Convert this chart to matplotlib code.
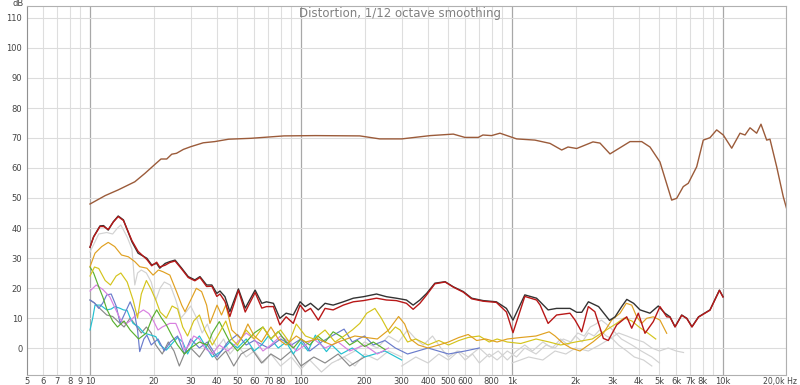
import numpy as np
import matplotlib
matplotlib.use("Agg")
import matplotlib.pyplot as plt
import matplotlib.transforms as mtransforms

# fundamental (brown)
fund_f = [10, 11.8, 13.6, 16.3, 18.2, 20.3, 21.7, 23.1, 24.4, 25.7, 27.7, 30, 34.4, 39, 45.4, 58, 83, 117,
          190, 236, 300, 410, 527, 598, 692, 728, 800, 877, 1052, 1284, 1514, 1720, 1843, 2026, 2420, 2613,
          2914, 3625, 4118, 4508, 5028, 5713, 6034, 6483, 6846, 7505, 8065, 8676, 9335, 10032, 11000, 12040,
          12720, 13430, 14440, 15140, 16110, 16700, 17970, 19310, 20000]
fund_db = [48, 50.8, 52.7, 55.4, 58.2, 61.2, 63, 63, 64.6, 64.9, 66.2, 67.1, 68.4, 68.8, 69.6, 69.9, 70.7, 70.8,
           70.7, 69.7, 69.7, 70.8, 71.3, 70.2, 70.2, 71, 70.8, 71.6, 69.7, 69.3, 68.2, 66, 67, 66.5, 68.7, 68.3,
           64.7, 68.8, 68.8, 67, 62, 49.3, 49.9, 53.8, 54.9, 60.4, 69.3, 70.1, 72.7, 71, 66.6, 71.6,
           71, 73.4, 71.6, 74.6, 69.3, 69.6, 60.4, 50.4, 46.6]

# THD (black)
thd_f = [10, 10.4, 11.15, 11.6, 12.2, 12.9, 13.6, 14.4, 15.8, 16.9, 18.6, 19.6, 20.7, 21.4, 22.7, 23.9, 25.3,
         27.2, 29.2, 31.4, 33.2, 35.7, 37.8, 39.9, 41.3, 43.6, 46, 50.5, 54.4, 60.6, 65.2, 68.6, 74, 79.4, 85,
         91.9, 99, 104.7, 111, 120.8, 130, 142, 158.7, 177, 197.7, 228, 254, 283, 316, 340, 366, 394, 431, 482,
         527, 588, 644, 730, 843, 941, 1011, 1150, 1307, 1360, 1483, 1627, 1883, 2027, 2141, 2302, 2573, 2900,
         3080, 3310, 3500, 3770, 4045, 4508, 4935, 5306, 5608, 5925, 6373, 6740, 7128, 7660, 8676, 9620, 10000]
thd_db = [33.6, 37.1, 40.7, 40.8, 39.3, 42.1, 44, 42.7, 35.4, 31.6, 29.9, 27.7, 28.2, 26.6, 28.2, 28.8, 29.3,
          26.6, 23.8, 22.7, 23.8, 21, 21, 18.2, 19, 17.1, 12.1, 19.7, 13.3, 19.3, 14.9, 15.4, 14.9, 9.9, 11.6,
          11, 15.4, 13.8, 14.9, 12.7, 14.9, 14.3, 15.4, 16.6, 17.1, 18, 17.1, 16.6, 16, 14.3, 16, 18.2, 21.6, 22.1,
          20.4, 18.8, 16.6, 15.8, 15.4, 13.2, 9.3, 17.7, 16.6, 15.4, 12.7, 13.2, 13.2, 11.9, 11.9, 15.4, 13.8, 9.2,
          10.4, 13.8, 16.2, 14.9, 12.7, 11.6, 14, 11.6, 10.4, 7.1, 11, 9.9, 7.1, 10.4, 12.7, 19.3, 17.1]

# 2nd harmonic (red)
h2_f = [10, 10.4, 11.15, 11.6, 12.2, 12.9, 13.6, 14.4, 15.8, 16.9, 18.6, 19.6, 20.7, 21.4, 22.7, 23.9, 25.3,
        27.2, 29.2, 31.4, 33.2, 35.7, 37.8, 39.9, 41.3, 43.6, 46, 50.5, 54.4, 60.6, 65.2, 68.6, 74, 79.4, 85,
        91.9, 99, 104.7, 111, 120.8, 130, 142, 158.7, 177, 197.7, 228, 254, 283, 316, 340, 366, 394, 431, 482,
        527, 588, 644, 730, 843, 941, 1011, 1150, 1307, 1360, 1483, 1627, 1883, 1990, 2140, 2300, 2470, 2710,
        2860, 3135, 3497, 3693, 3968, 4269, 4674, 5028, 5411, 5608, 5925, 6373, 6740, 7128, 7660, 8676, 9620, 10000]
h2_db = [33.6, 37, 40.5, 40.5, 39.5, 42, 43.8, 42.5, 35.8, 32.2, 29.5, 27.4, 28.6, 27, 27.6, 28.5, 29,
         26.3, 23.5, 22.4, 23.5, 20.5, 20.6, 17.2, 18, 15.5, 10.5, 19.2, 12, 18.5, 13.3, 13.8, 13.8, 7.7, 10.4,
         8.2, 14.3, 12.1, 13.2, 9.3, 13.2, 12.7, 14.3, 15.4, 15.8, 16.6, 16, 15.8, 14.9, 12.9, 14.9, 17.7, 21.4, 22,
         20.3, 18.6, 16.4, 15.6, 15.2, 12, 5.1, 17.2, 16, 14.3, 8.2, 11, 11.6, 9.3, 5.4, 13.8, 12.1, 3.2,
         2.5, 7.7, 10.4, 6.6, 11.6, 4.9, 8.8, 13.8, 10.4, 10.3, 7, 10.9, 9.8, 7, 10.3, 12.6, 19.2, 17]

# 3rd harmonic (orange)
h3_f = [10, 10.56, 11.36, 12.2, 13.1, 14.1, 15.2, 16.3, 17.2, 18.6, 19.9, 21.1, 22.2, 23.9, 25.7, 27.2, 28.2,
        30.3, 31.9, 33.8, 35.7, 37, 40, 42, 44, 47, 52, 56, 60, 65, 72, 78, 85, 95, 105, 120, 140, 150, 180,
        230, 260, 290, 310, 330, 360, 400, 450, 500, 560, 620, 680, 750, 850, 950, 1100, 1300, 1500, 1600,
        1750, 1900, 2100, 2427, 2708, 2968, 3252, 3480, 3693, 3902, 4118, 4350, 4674, 5028, 5411]
h3_db = [27.1, 31.6, 33.8, 35.2, 33.8, 31, 30.4, 28.8, 27.1, 26.6, 24.3, 26, 25.4, 24.3, 18.8, 14.3, 12.1,
         16.6, 19.9, 18.8, 14.3, 8.2, 14.3, 11, 14.3, 6, 3, 8, 4, 2, 7, 3, 1, 4, 2, 3, 1, 2, 4,
         3, 6, 10.5, 8, 3, 1, 0, 1, 2, 3.5, 4.5, 2.5, 3, 2, 3, 3.5, 4, 5.4, 4,
         1.5, 0, -1, 2.1, 4.9, 9.3, 11.6, 14.9, 14.3, 10.4, 8.2, 9.9, 10.4, 9.3, 4.9]

# 4th harmonic (yellow)
h4_f = [10, 10.5, 11, 11.8, 12.5, 13.3, 14, 15, 16, 16.8, 17.5, 18.5, 19.5, 20.5, 21.5, 23, 24.5, 26, 27.5,
        29, 31, 33, 35, 38, 41, 44, 47, 50, 55, 60, 66, 72, 80, 88, 95, 105, 115, 130, 145, 160, 175, 190,
        205, 224, 240, 263, 280, 295, 320, 350, 400, 450, 500, 560, 620, 700, 780, 850, 950, 1100, 1300,
        1500, 1700, 2000, 2400, 2800, 3100, 3400, 3700, 4000, 4400, 4800]
h4_db = [24, 27, 26.5, 22.5, 21, 24, 25, 22, 16, 10, 18, 22.5, 19.5, 16, 12, 10, 14, 13, 7,
         4, 9, 11, 6, 1, 5, 9, 3, 1, 6, 3, 7, 3, 6, 2, 8, 4, 3, 6, 2, 4, 6, 8.2,
         11.6, 13.2, 10, 4.9, 7, 6, 2, 3, 1, 2.5, 1, 2.5, 3.5, 4, 2, 3, 2, 1.5, 3,
         2, 1, 2, 3, 6, 8, 10, 9, 7, 5, 3]

# 5th harmonic (green)
h5_f = [10, 10.4, 11, 11.5, 12, 12.8, 13.5, 14.5, 15.5, 17, 18.5, 19.7, 20.7, 21.8, 23, 24.5, 26, 28, 30,
        33, 36, 38, 41, 43, 46, 50, 55, 60, 66, 72, 78, 85, 92, 100, 110, 120, 130, 142, 155, 170, 185, 200,
        220, 250]
h5_db = [27, 25, 20.4, 17, 13, 9, 7, 9, 6, 3, 5, 10, 12.7, 10, 7.7, 4, 1, -2, 0,
         2, 1, 5, 8.8, 6, 2, -1, 2, 5, 7, 3, 5.5, 2, 0, 3, 1, 4, 2, 5.4, 3.8, 1, 2.5, 0.5,
         2, -0.5]

# 6th harmonic (pink)
h6_f = [10, 10.7, 11.5, 12.4, 13, 13.5, 14, 14.7, 15.5, 16.5, 17.9, 19, 20, 21, 22, 23.9, 25.5, 27, 28,
        29.5, 31, 33, 35, 38, 41, 45, 50, 55, 60, 66, 72, 80, 88, 95, 105, 115, 130, 150, 170, 200, 230, 260]
h6_db = [19, 21, 19.5, 17.1, 14, 11.6, 9.3, 8, 9, 11, 12.7, 11.5, 9, 6, 7, 8.2, 8.2, 4, -0.7,
         1, 4, 3, 0, -2, 1, -1, 2, 5, 3, -1, 1, 4, 2, -1, 1, 3, 0, 2, -1, 1, -2, 0]

# 7th harmonic (blue)
h7_f = [10, 10.5, 11, 11.5, 12, 12.6, 13.3, 13.9, 14.5, 15.5, 16.2, 16.8, 17.2, 18, 18.6, 19.5, 21, 22.5,
        24, 26, 28, 30, 33, 36, 40, 45, 50, 55, 60, 70, 80, 90, 100, 110, 125, 140, 160, 175, 200, 220, 250,
        280, 320, 400, 500, 600, 700]
h7_db = [16, 15, 13.2, 15, 17.7, 18, 14, 8.2, 11, 15.4, 12, 6, -1.2, 3, 4.3, 1, 3, -1,
         2, 4, -2, 3, 0, 2, -3, 2, 4.5, 1, 2.5, 0, 3, 1, 3, -1, 2, 4, 6.3, 2, 4, 1, 2.5,
         0, -2, 0, -2, -1, 0]

# 8th harmonic (cyan)
h8_f = [10, 10.3, 10.56, 11.2, 12, 12.6, 13.1, 13.8, 14.4, 15, 15.5, 16, 17, 18, 19, 20.5, 21.5, 23, 24.5,
        26, 27.5, 29, 31, 33, 35, 38, 42, 46, 50, 55, 60, 65, 70, 78, 85, 92, 100, 108, 117, 125, 132, 140,
        155, 175, 200, 250, 300]
h8_db = [6, 10, 14.3, 14.3, 12.7, 13, 13.8, 13.3, 12.7, 12.5, 10, 8.2, 7, 5, 4.5, 3.8, 1, -0.7, 1.5,
         3.5, 2, -2, 2, 4, 1, -3, -1, 2, 0, 3, -1, 1, 4, 0, 2, -2, 2, -1, 4.3, 1, -1.2, 1,
         -2, 0, -3, -1, -4]

# 9th harmonic (dark gray)
h9_f = [10, 10.5, 11.2, 12, 12.8, 13.5, 14.5, 15.5, 16.5, 17.5, 18.5, 19.5, 20.5, 22, 23.5, 25, 26.5, 28,
        30, 33, 36, 40, 44, 48, 52, 58, 65, 72, 80, 90, 100, 115, 130, 150, 170, 200]
h9_db = [16, 15, 13, 11, 10.5, 9, 7, 10, 7.5, 5, 7, 5, 1, -2, 2, -1, -6, -2,
         0, -3, 1, -4, -1, -6, -2, 0, -5, -2, -4, -1, -6, -3, -5, -2, -6, -3]

# noise / higher orders (light gray)
lg1_f = [10, 11, 12, 12.8, 13.5, 14, 15, 15.8, 16.3, 16.8, 17.5, 18.5, 19.5, 20.5, 21.5, 22.5, 24, 25.5,
         27, 28.5, 30, 32, 34, 36, 38, 40, 43, 46, 50, 55, 60, 66, 72, 80, 90, 100, 110, 125, 140, 160, 180,
         200, 230, 260, 300]
lg1_db = [32, 38, 38.5, 38, 40, 41, 37, 33, 21, 25, 26, 25, 22, 16, 20, 22, 21, 16,
          10, 12, 14, 10, 5, 8, 3, 0, 3, -2, 1, -3, -1, -5, -2, -6, -3, -7, -4, -8, -5, -3, -6,
          -2, -4, -1, -3]
lg2_f = [150, 180, 200, 230, 260, 290, 320, 350, 380, 420, 460, 500, 550, 600, 650, 700, 780, 850, 950,
         1050, 1150, 1300, 1450, 1600, 1750, 1900, 2050, 2200, 2350, 2500, 2650, 2800, 3000, 3300, 3700,
         4100, 4600, 5000]
lg2_db = [-4, -1, 2, 0, 4, 2, 6, 3, 1, 4, 0, -3, -1, -4, -2, -5, -2, -4, -1,
          -3, 0, -2, 1, 0, 3, 2, 5, 4, 7, 8, 9.3, 8, 6, 3, 1,
          -1, -3, -5]
lg3_f = [300, 350, 400, 450, 500, 560, 620, 700, 780, 860, 950, 1050, 1150, 1250, 1400, 1550, 1700, 1850,
         2000, 2150, 2300, 2450, 2600, 2800, 3000, 3200, 3500, 3800, 4200, 4600]
lg3_db = [-6, -3, -5, -2, -4, -1, -3, 0, -3, -1, -4, -1, 1, -1, 2, 0, 3, 1,
          4, 2, 5, 4, 6, 4, 3, 1, -1, -3, -4, -6]
lg4_f = [1000, 1200, 1400, 1600, 1800, 2000, 2300, 2600, 2900, 3200, 3500, 3800, 4200, 4600, 5000, 5500,
         6000, 6500]
lg4_db = [-5, -3, -4, -1, -2, 0, -1, 1, 3, 5, 4, 3, 2, 0, -1, 0, -1, -1.5]

tick_pos = [5, 6, 7, 8, 9, 10, 20, 30, 40, 50, 60, 70, 80, 100, 200, 300, 400, 500, 600, 800,
            1000, 2000, 3000, 4000, 5000, 6000, 7000, 8000, 10000, 20000]
tick_lab = ['5', '6', '7', '8', '9', '10', '20', '30', '40', '50', '60', '70', '80', '100', '200', '300',
            '400', '500', '600', '800', '1k', '2k', '3k', '4k', '5k', '6k', '7k', '8k', '10k', '20,0k Hz']

fig = plt.figure(figsize=(8, 3.85), dpi=100)
ax = fig.add_axes([26.5 / 800, 10 / 385, 760 / 800, 369 / 385])
ax.set_xscale('log')
ax.set_xlim(5, 20000)
ax.set_ylim(-9, 114)

# grid
for dec in [1, 10, 100, 1000, 10000]:
    for m in range(1, 10):
        f = dec * m
        if f < 5 or f > 20000:
            continue
        if m == 1 and f >= 10:
            ax.axvline(f, color='#a8a8a8', lw=0.9, zorder=0)
        else:
            ax.axvline(f, color='#dedede', lw=0.8, zorder=0)
for y in range(0, 111, 10):
    ax.axhline(y, color='#dcdcdc', lw=0.8, zorder=0)

lw = 0.85
ax.plot(lg1_f, lg1_db, color='#d2d2d2', lw=lw)
ax.plot(lg2_f, lg2_db, color='#d2d2d2', lw=lw)
ax.plot(lg3_f, lg3_db, color='#d2d2d2', lw=lw)
ax.plot(lg4_f, lg4_db, color='#d2d2d2', lw=lw)
ax.plot(h9_f, h9_db, color='#8a8a8a', lw=lw)
ax.plot(h8_f, h8_db, color='#22c0d0', lw=lw)
ax.plot(h7_f, h7_db, color='#6a7ccc', lw=lw)
ax.plot(h6_f, h6_db, color='#d880e0', lw=lw)
ax.plot(h5_f, h5_db, color='#5ab030', lw=lw)
ax.plot(h4_f, h4_db, color='#d4c41c', lw=lw)
ax.plot(h3_f, h3_db, color='#e0a020', lw=lw)
ax.plot(thd_f, thd_db, color='#333333', lw=1.0)
ax.plot(h2_f, h2_db, color='#b81818', lw=1.0)
ax.plot(fund_f, fund_db, color='#9b5b3a', lw=1.0)

ax.set_xticks(tick_pos)
ax.set_xticklabels(tick_lab)
ax.xaxis.set_minor_locator(matplotlib.ticker.NullLocator())
ax.set_yticks(range(0, 111, 10))
ax.tick_params(axis='both', length=0, labelsize=6, colors='#444444')
ax.tick_params(axis='x', pad=1.5)
ax.tick_params(axis='y', pad=3)

# last label sits against the right edge
last = ax.get_xticklabels()[-1]
last.set_ha('right')
last.set_fontsize(5.6)
last.set_transform(last.get_transform() + mtransforms.ScaledTranslation(11 / 100, 0, fig.dpi_scale_trans))

for s in ax.spines.values():
    s.set_color('#b0b0b0')
    s.set_linewidth(0.8)
ax.spines['left'].set_color('#909090')

fig.text(0.5, 1 - 13 / 385, 'Distortion, 1/12 octave smoothing', ha='center', va='center',
         fontsize=8.5, color='#808080')
fig.text(18 / 800, 1 - 3 / 385, 'dB', ha='center', va='center', fontsize=6, color='#444444')

fig.savefig('out.png', dpi=100)
